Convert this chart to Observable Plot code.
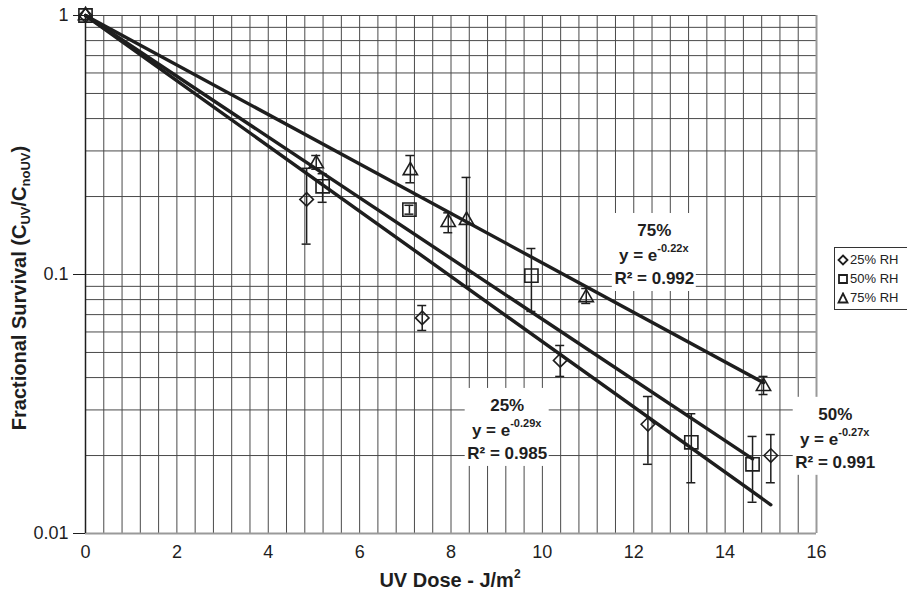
<!DOCTYPE html>
<html><head><meta charset="utf-8">
<script src="https://cdn.jsdelivr.net/npm/d3@7"></script>
<script src="https://cdn.jsdelivr.net/npm/@observablehq/plot@0.6"></script>
<style>
html,body{margin:0;padding:0;background:#fff;overflow:hidden;}
#chart{position:relative;width:907px;height:593px;}
#legend{position:absolute;left:834px;top:247px;width:73px;height:63px;border:1px solid #333;border-right:none;background:#fff;
  font:13px "Liberation Sans",Arial,sans-serif;color:#222;box-sizing:border-box;padding-top:2px;}
#legend .row{height:19px;line-height:19px;white-space:nowrap;display:flex;align-items:center;}
#legend svg{margin-left:2px;margin-right:1px;}
</style></head><body><div id="chart"><div id="legend"></div></div>
<script>
// ---- data ----
const series = ["25% RH", "50% RH", "75% RH"];
const symbols = ["diamond2", "square2", "triangle2"];

const dose25 = [0, 4.84, 7.37, 10.39, 12.31, 15.0];
const surv25 = [1, 0.195, 0.068, 0.0466, 0.0264, 0.0200];
const hi25   = [null, 0.257, 0.0759, 0.0532, 0.0338, 0.0241];
const lo25   = [null, 0.131, 0.0608, 0.0404, 0.0185, 0.0157];

const dose50 = [0, 5.19, 7.09, 9.76, 13.26, 14.6];
const surv50 = [1, 0.219, 0.178, 0.099, 0.0225, 0.0185];
const hi50   = [null, 0.245, 0.185, 0.126, 0.029, 0.0237];
const lo50   = [null, 0.190, 0.171, 0.072, 0.0157, 0.0132];

const dose75 = [0, 5.05, 7.11, 7.94, 8.34, 10.96, 14.84];
const surv75 = [1, 0.268, 0.252, 0.159, 0.162, 0.0815, 0.037];
const hi75   = [null, 0.288, 0.288, 0.173, 0.237, 0.0883, 0.0404];
const lo75   = [null, 0.255, 0.226, 0.145, 0.090, 0.0773, 0.0344];

// fitted curves y = e^(-k x), drawn from 0 to the last dose of each series
const fitK   = [0.29, 0.27, 0.22];
const fitEnd = [15.0, 14.6, 14.84];

// annotations
const annTitle = ["25%", "50%", "75%"];
const annExp   = ["-0.29x", "-0.27x", "-0.22x"];
const annR2    = ["R² = 0.985", "R² = 0.991", "R² = 0.992"];
const annX     = [9.23, 16.41, 12.45];
const annY     = [0.0250, 0.0231, 0.1184];

// axes
const xTicks = [0, 2, 4, 6, 8, 10, 12, 14, 16];
const yTicks = [0.01, 0.1, 1];
const yTickLabels = ["0.01", "0.1", "1"];
const xGrid = d3.range(0, 16.001, 0.4);
const yGrid = [1,2,3,4,5,6,7,8,9].flatMap(m => [m * 0.01, m * 0.1]).concat([1]);

// ---- build tables ----
const groups = [[dose25, surv25, hi25, lo25], [dose50, surv50, hi50, lo50], [dose75, surv75, hi75, lo75]];
const points = groups.flatMap(([xs, ys, hs, ls], s) =>
  xs.map((x, i) => ({series: series[s], s, x, y: ys[i], hi: hs[i], lo: ls[i]})));
const errs = points.filter(d => d.hi != null);
const fits = fitK.flatMap((k, s) => [
  {s, x: 0, y: 1},
  {s, x: fitEnd[s], y: Math.exp(-k * fitEnd[s])}
]);
const ann = annTitle.map((t, i) => ({title: t, exp: annExp[i], r2: annR2[i], x: annX[i], y: annY[i]}));

const ink = "#1e1e1e";
const gridC = "#4a4a4a";
const font = "'Liberation Sans', Arial, Helvetica, sans-serif";
const rSym = [6.1, 8.4, 6.8];

const dotMarks = [0, 1, 2].map(s => Plot.dot(points.filter(d => d.s === s), {
  x: "x", y: "y", symbol: () => symbols[s], r: rSym[s],
  stroke: ink, strokeWidth: 1.6, fill: "none"
}));

const chart = Plot.plot({
  width: 907, height: 593,
  marginLeft: 85, marginRight: 91, marginTop: 15, marginBottom: 60,
  style: {fontFamily: font, background: "white", color: ink, overflow: "visible"},
  x: {domain: [0, 16]},
  y: {type: "log", domain: [0.01, 1]},
  symbol: {type: "identity"},
  marks: [
    Plot.ruleX(xGrid, {stroke: gridC, strokeWidth: 1}),
    Plot.ruleY(yGrid, {stroke: gridC, strokeWidth: 1}),
    Plot.ruleX([16], {stroke: "#9a9a9a", strokeWidth: 2}),
    Plot.ruleY([0.01], {stroke: "#9a9a9a", strokeWidth: 2}),
    Plot.ruleX([0], {stroke: ink, strokeWidth: 1.5}),
    // white label boxes
    Plot.rect(ann, {x1: "x", x2: "x", y1: "y", y2: "y", fill: "white",
      insetLeft: -42, insetRight: -42, insetTop: -42, insetBottom: -36}),
    Plot.axisX({ticks: xTicks, tickSize: 0, tickPadding: 12, fontSize: 18, label: null, tickFormat: d => String(d)}),
    Plot.axisY({ticks: yTicks, tickSize: 12, tickPadding: 5, fontSize: 18, label: null, stroke: ink,
      tickFormat: d => yTickLabels[yTicks.indexOf(d)]}),
    // fitted lines
    Plot.line(fits, {x: "x", y: "y", z: "s", stroke: ink, strokeWidth: 3.4}),
    // error bars
    Plot.ruleX(errs, {x: "x", y1: "lo", y2: "hi", stroke: ink, strokeWidth: 1.5}),
    Plot.ruleY(errs, {y: "hi", x1: "x", x2: "x", insetLeft: -4.5, insetRight: -4.5, stroke: ink, strokeWidth: 1.5}),
    Plot.ruleY(errs, {y: "lo", x1: "x", x2: "x", insetLeft: -4.5, insetRight: -4.5, stroke: ink, strokeWidth: 1.5}),
    ...dotMarks,
    // annotation text
    Plot.text(ann, {x: "x", y: "y", text: "title", dy: -25, fontSize: 17, fontWeight: "bold", fill: ink}),
    Plot.text(ann, {x: "x", y: "y", text: () => "y = e", dx: 3, textAnchor: "end", fontSize: 17, fontWeight: "bold", fill: ink}),
    Plot.text(ann, {x: "x", y: "y", text: "exp", dx: 3, dy: -7, textAnchor: "start", fontSize: 11, fontWeight: "bold", fill: ink}),
    Plot.text(ann, {x: "x", y: "y", text: "r2", dy: 23, fontSize: 17, fontWeight: "bold", fill: ink})
  ]
});

// axis titles with sub/superscripts
const svg = d3.select(chart);
const yl = svg.append("text")
  .attr("transform", "translate(26,288) rotate(-90)")
  .attr("text-anchor", "middle")
  .attr("font-family", font).attr("font-weight", "bold").attr("font-size", 20).attr("fill", ink);
yl.append("tspan").text("Fractional Survival (C");
yl.append("tspan").text("UV").attr("font-size", 13).attr("dy", 4);
yl.append("tspan").text("/C").attr("dy", -4);
yl.append("tspan").text("noUV").attr("font-size", 13).attr("dy", 4);
yl.append("tspan").text(")").attr("dy", -4);

const xl = svg.append("text")
  .attr("x", 450).attr("y", 587).attr("text-anchor", "middle")
  .attr("font-family", font).attr("font-weight", "bold").attr("font-size", 20).attr("fill", ink);
xl.append("tspan").text("UV Dose - J/m");
xl.append("tspan").text("2").attr("font-size", 12).attr("dy", -9);

document.getElementById("chart").prepend(chart);

// legend
const legendPaths = [
  "M6,1.5L10.5,6L6,10.5L1.5,6Z",
  "M2,2H10V10H2Z",
  "M6,1.5L10.5,10.5H1.5Z"
];
const lg = document.getElementById("legend");
series.forEach((name, i) => {
  const row = document.createElement("div");
  row.className = "row";
  row.innerHTML = `<svg width="12" height="12" viewBox="0 0 12 12"><path d="${legendPaths[i]}" fill="none" stroke="${ink}" stroke-width="1.8"/></svg><span>${name}</span>`;
  lg.appendChild(row);
});
</script>
</body></html>
